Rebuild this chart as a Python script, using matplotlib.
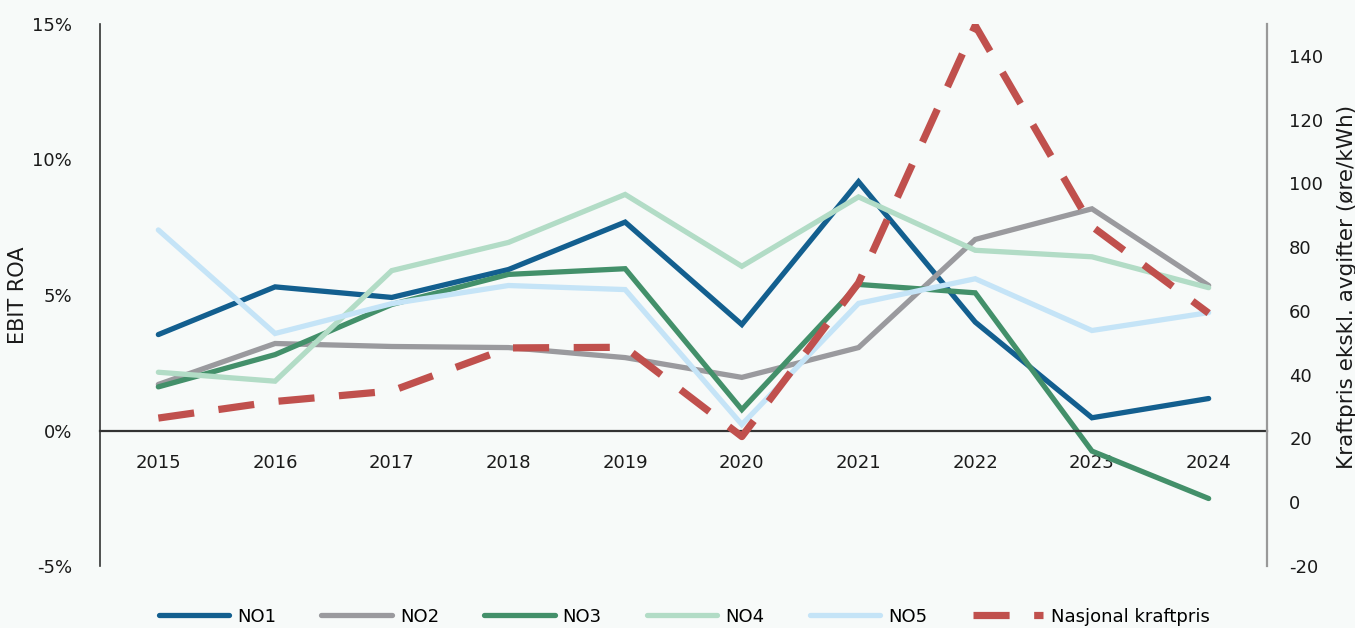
import matplotlib
matplotlib.use("Agg")
import matplotlib.pyplot as plt
from matplotlib.ticker import FuncFormatter

years = ["2015", "2016", "2017", "2018", "2019", "2020", "2021", "2022", "2023", "2024"]
no1 = [3.54, 5.30, 4.91, 5.94, 7.69, 3.91, 9.18, 4.00, 0.47, 1.18]
no2 = [1.70, 3.21, 3.10, 3.06, 2.69, 1.96, 3.06, 7.05, 8.18, 5.35]
no3 = [1.61, 2.80, 4.65, 5.76, 5.97, 0.77, 5.39, 5.08, -0.76, -2.51]
no4 = [2.15, 1.82, 5.90, 6.94, 8.71, 6.06, 8.62, 6.65, 6.41, 5.27]
no5 = [7.40, 3.58, 4.68, 5.35, 5.20, 0.22, 4.69, 5.60, 3.69, 4.35]
kraftpris = [26.4, 31.6, 34.9, 48.4, 48.6, 20.6, 68.8, 149.5, 86.5, 59.3]

series_names = ["NO1", "NO2", "NO3", "NO4", "NO5"]
colors = ["#135F8F", "#9A9A9E", "#43906A", "#B2DCC6", "#C5E4F7"]
red = "#C0504D"
bg = "#F7FAF9"

plt.rcParams["font.family"] = ["DejaVu Sans"]
plt.rcParams["axes.unicode_minus"] = False

fig = plt.figure(figsize=(13.55, 6.28), dpi=100, facecolor=bg)
ax = fig.add_axes([100/1355, 1-566/628, (1267-100)/1355, (566-24)/628])
ax.set_facecolor(bg)
ax2 = ax.twinx()

x = list(range(len(years)))
handles = []
for name, data, c in zip(series_names, [no1, no2, no3, no4, no5], colors):
    h, = ax.plot(x, data, color=c, lw=3.8, solid_capstyle="round", solid_joinstyle="miter", label=name)
    handles.append(h)

hk, = ax2.plot(x, kraftpris, color=red, lw=5.2, dashes=(5.0, 3.4), label="Nasjonal kraftpris")
handles.append(hk)

ax.set_xlim(-0.5, 9.5)
ax.set_ylim(-5, 15)
ax2.set_ylim(-20, 150)
ax.set_yticks([-5, 0, 5, 10, 15])
ax.yaxis.set_major_formatter(FuncFormatter(lambda v, p: f"{int(v)}%"))
ax2.set_yticks(list(range(-20, 141, 20)))

ax.set_xticks(x)
ax.set_xticklabels(years)
ax.spines["bottom"].set_position(("data", 0))
ax.spines["bottom"].set_color("#333333")
ax.spines["bottom"].set_linewidth(1.6)
ax.spines["top"].set_visible(False)
ax.spines["right"].set_visible(False)
ax.spines["left"].set_color("#333333")
ax.spines["left"].set_linewidth(1.2)
ax2.spines["top"].set_visible(False)
ax2.spines["left"].set_visible(False)
ax2.spines["bottom"].set_visible(False)
ax2.spines["right"].set_color("#999999")
ax2.spines["right"].set_linewidth(1.6)

fs = 13
ax.tick_params(axis="x", length=0, pad=17, labelsize=fs, colors="#1a1a1a")
ax.tick_params(axis="y", length=0, pad=20, labelsize=fs, colors="#1a1a1a")
ax2.tick_params(axis="y", length=0, pad=16, labelsize=fs, colors="#1a1a1a")

ax.set_ylabel("EBIT ROA", fontsize=15, color="#1a1a1a")
ax2.set_ylabel("Kraftpris ekskl. avgifter (øre/kWh)", fontsize=15.5, color="#1a1a1a")
ax.yaxis.set_label_coords(-0.062, 0.5)
ax2.yaxis.set_label_coords(1.060, 0.515)

ax.set_zorder(0)
ax2.set_zorder(1)
ax2.patch.set_visible(False)

fig.legend(handles=handles, loc="lower center", bbox_to_anchor=(0.505, -0.022), ncol=6,
           frameon=False, fontsize=13, handlelength=3.9, handletextpad=0.45, columnspacing=2.5)

fig.savefig("out.png", dpi=100, facecolor=bg)
